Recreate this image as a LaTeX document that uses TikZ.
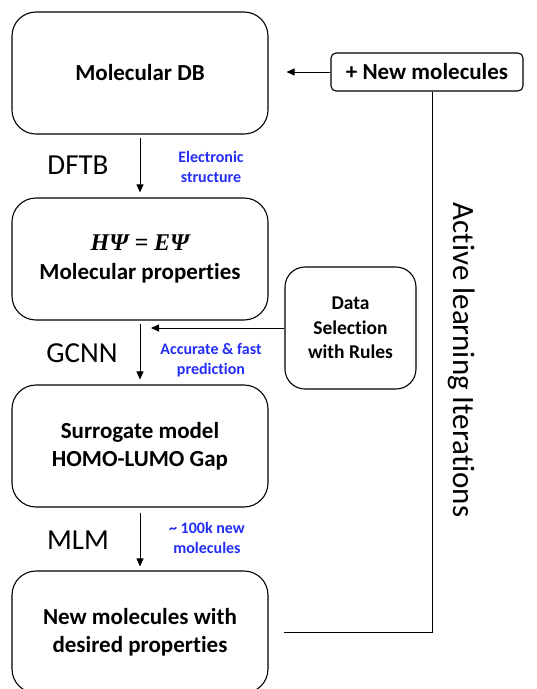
\documentclass[tikz,border=0pt]{standalone}
\usepackage{amsmath}
\usepackage{fontspec}
\setmainfont{Carlito}[Ligatures=NoCommon]
\newfontfamily\eqfont{Liberation Serif}
\usetikzlibrary{arrows.meta,positioning}
\definecolor{labelblue}{RGB}{35,45,245}
\newcommand{\schrod}{{\eqfont\bfseries\itshape\fontsize{24}{28.5}\selectfont HΨ = EΨ}}
\tikzset{
  stage/.style={draw, line width=1.1pt, rounded corners=24pt, minimum width=256pt, minimum height=122pt, align=center, font=\bfseries\fontsize{23}{28.5}\selectfont},
  pick/.style={draw, line width=1.1pt, rounded corners=20pt, minimum width=131pt, minimum height=122pt, align=center, font=\bfseries\fontsize{19.5}{24.5}\selectfont},
  feed/.style={draw, line width=1.1pt, rounded corners=5pt, minimum width=192pt, minimum height=38pt, align=center, font=\bfseries\fontsize{23}{28}\selectfont},
  method/.style={font=\fontsize{29}{34}\selectfont},
  tag/.style={align=center, text=labelblue, font=\bfseries\fontsize{16}{20}\selectfont},
  flow/.style={-{Triangle[length=8pt,width=7pt]}, line width=0.9pt},
  loopline/.style={line width=0.9pt}
}

\begin{document}
\begin{tikzpicture}[x=1pt,y=-1pt]
  \useasboundingbox (0,0) rectangle (537,689);

  \node[stage] (db) at (140,73) {Molecular DB};
  \node[stage] (props) at (140,259) {\schrod\\Molecular properties};
  \node[stage] (surr) at (140,446) {Surrogate model\\HOMO-LUMO Gap};
  \node[stage] (newmol) at (140,632) {New molecules with\\desired properties};

  \node[feed] (plus) at (427,72) {+ New molecules};
  \node[pick] (sel) at (350.5,328) {Data\\Selection\\with Rules};

  \node[method] (dftb) at (78,165) {DFTB};
  \node[method] (gcnn) at (82,353) {GCNN};
  \node[method] (mlm) at (78,540) {MLM};

  \node[tag] (elec) at (211,167) {Electronic\\structure};
  \node[tag] (pred) at (211,360) {Accurate \& fast\\prediction};
  \node[tag] (hundred) at (207,538) {\textasciitilde{} 100k new\\molecules};

  \node[font=\fontsize{31}{36}\selectfont, rotate=-90] (iter) at (462,360) {Active learning Iterations};

  \draw[flow, shorten <=3pt, shorten >=5pt] (db.south) -- (props.north);
  \draw[flow, shorten <=3pt, shorten >=5pt] (props.south) -- (surr.north);
  \draw[flow, shorten <=5pt, shorten >=4pt] (surr.south) -- (newmol.north);

  \draw[flow, shorten >=18pt] (plus.west) -- (plus.west -| db.east);
  \coordinate (join) at (props.south |- sel.west);
  \draw[flow] (sel.west) -- ([xshift=11pt]join);

  \coordinate (turn) at ([xshift=5pt]plus.south);
  \draw[loopline] (turn) |- ([xshift=15pt]newmol.east);
\end{tikzpicture}
\end{document}
